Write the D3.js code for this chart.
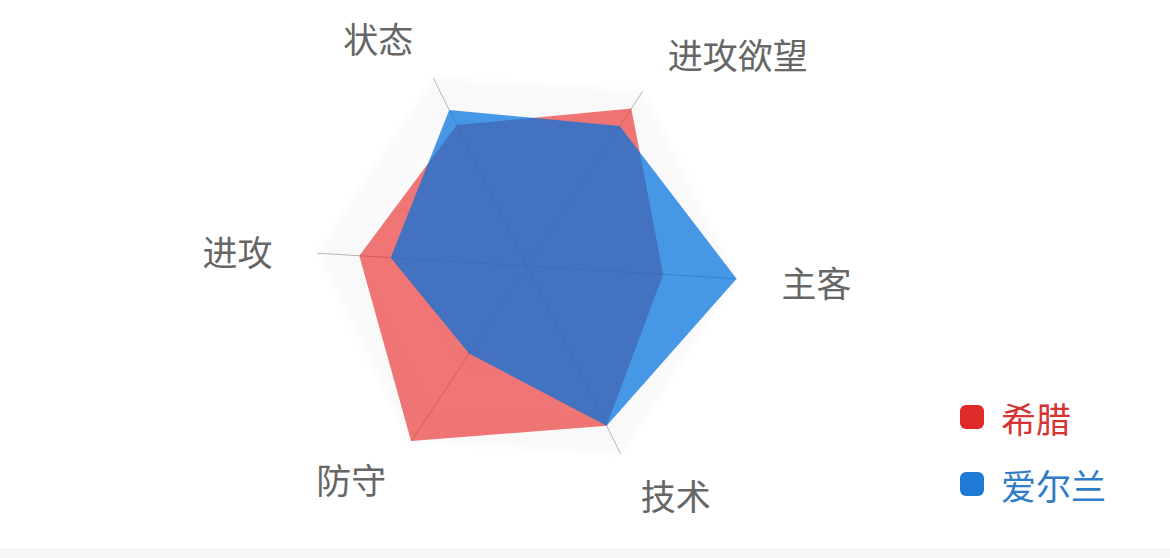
<!DOCTYPE html>
<html>
<head>
<meta charset="utf-8">
<script src="https://cdn.jsdelivr.net/npm/d3@7"></script>
<style>
  html, body { margin: 0; padding: 0; background: #fff; }
  svg { display: block; }
  text { font-family: "Noto Sans CJK SC", "Noto Sans", sans-serif; }
</style>
</head>
<body>
<svg id="chart"></svg>
<script>
var indicators = ["状态", "进攻欲望", "主客", "技术", "防守", "进攻"];
var seriesNames = ["希腊", "爱尔兰"];
var greece = [75, 90, 65, 85, 100, 80];
var ireland = [83, 80, 100, 85, 50, 65];
var maxValue = 100;

var width = 1170;
var height = 558;
var cx = 527, cy = 266;
var R = 210;
var startAngle = -26.5 * Math.PI / 180;

var fills = ["rgb(232,34,34)", "rgb(0,113,223)"];
var fillOpacity = [0.62, 0.72];
var legendText = ["#d63333", "#2f7cc9"];
var legendDot = ["#e02a2a", "#1f7ad6"];

var svg = d3.select("#chart")
    .attr("width", width)
    .attr("height", height);

var defs = svg.append("defs");
defs.append("filter")
    .attr("id", "soft")
    .attr("x", "-10%").attr("y", "-10%")
    .attr("width", "120%").attr("height", "120%")
  .append("feGaussianBlur")
    .attr("stdDeviation", 3);

// strip at the bottom
svg.append("rect")
    .attr("x", 0).attr("y", 548)
    .attr("width", width).attr("height", 10)
    .attr("fill", "#f5f6f8");

var r = d3.scaleLinear().domain([0, maxValue]).range([0, R]);
var angle = d3.scaleLinear().domain([0, indicators.length])
    .range([startAngle, startAngle + 2 * Math.PI]);

var g = svg.append("g").attr("transform", "translate(" + cx + "," + cy + ")");

var radial = d3.lineRadial()
    .angle((d, i) => angle(i))
    .radius(d => r(d))
    .curve(d3.curveLinearClosed);

// faint split areas
var levels = [100, 80, 60, 40, 20];
g.append("g")
    .attr("filter", "url(#soft)")
  .selectAll("path")
  .data(levels)
  .join("path")
    .attr("d", lv => radial(indicators.map(() => lv)))
    .attr("fill", (lv, i) => i % 2 == 0 ? "#f9f9f9" : "#fcfcfc")
    .attr("stroke", "none");

// axis lines
g.append("g")
  .selectAll("line")
  .data(indicators)
  .join("line")
    .attr("x1", 0).attr("y1", 0)
    .attr("x2", (d, i) => r(maxValue) * Math.sin(angle(i)))
    .attr("y2", (d, i) => -r(maxValue) * Math.cos(angle(i)))
    .attr("stroke", "#999")
    .attr("stroke-width", 0.7);

// series polygons
var series = [greece, ireland];
g.append("g")
  .selectAll("path")
  .data(series)
  .join("path")
    .attr("d", d => radial(d))
    .attr("fill", (d, i) => fills[i])
    .attr("fill-opacity", (d, i) => fillOpacity[i])
    .attr("stroke", "none");

// indicator labels
var labelR = 255;
g.append("g")
  .selectAll("text")
  .data(indicators)
  .join("text")
    .attr("x", (d, i) => labelR * Math.sin(angle(i)))
    .attr("y", (d, i) => -labelR * Math.cos(angle(i)))
    .attr("text-anchor", (d, i) => Math.sin(angle(i)) >= 0 ? "start" : "end")
    .attr("dominant-baseline", "central")
    .attr("font-size", 35)
    .attr("fill", "#666")
    .text(d => d);

// legend
var legend = svg.append("g")
  .selectAll("g")
  .data(seriesNames)
  .join("g")
    .attr("transform", (d, i) => "translate(960," + (417 + i * 67) + ")");

legend.append("rect")
    .attr("x", 0).attr("y", -12)
    .attr("width", 24).attr("height", 24)
    .attr("rx", 6)
    .attr("fill", (d, i) => legendDot[i]);

legend.append("text")
    .attr("x", 41).attr("y", 0)
    .attr("dominant-baseline", "central")
    .attr("font-size", 35)
    .attr("fill", (d, i) => legendText[i])
    .text(d => d);
</script>
</body>
</html>
